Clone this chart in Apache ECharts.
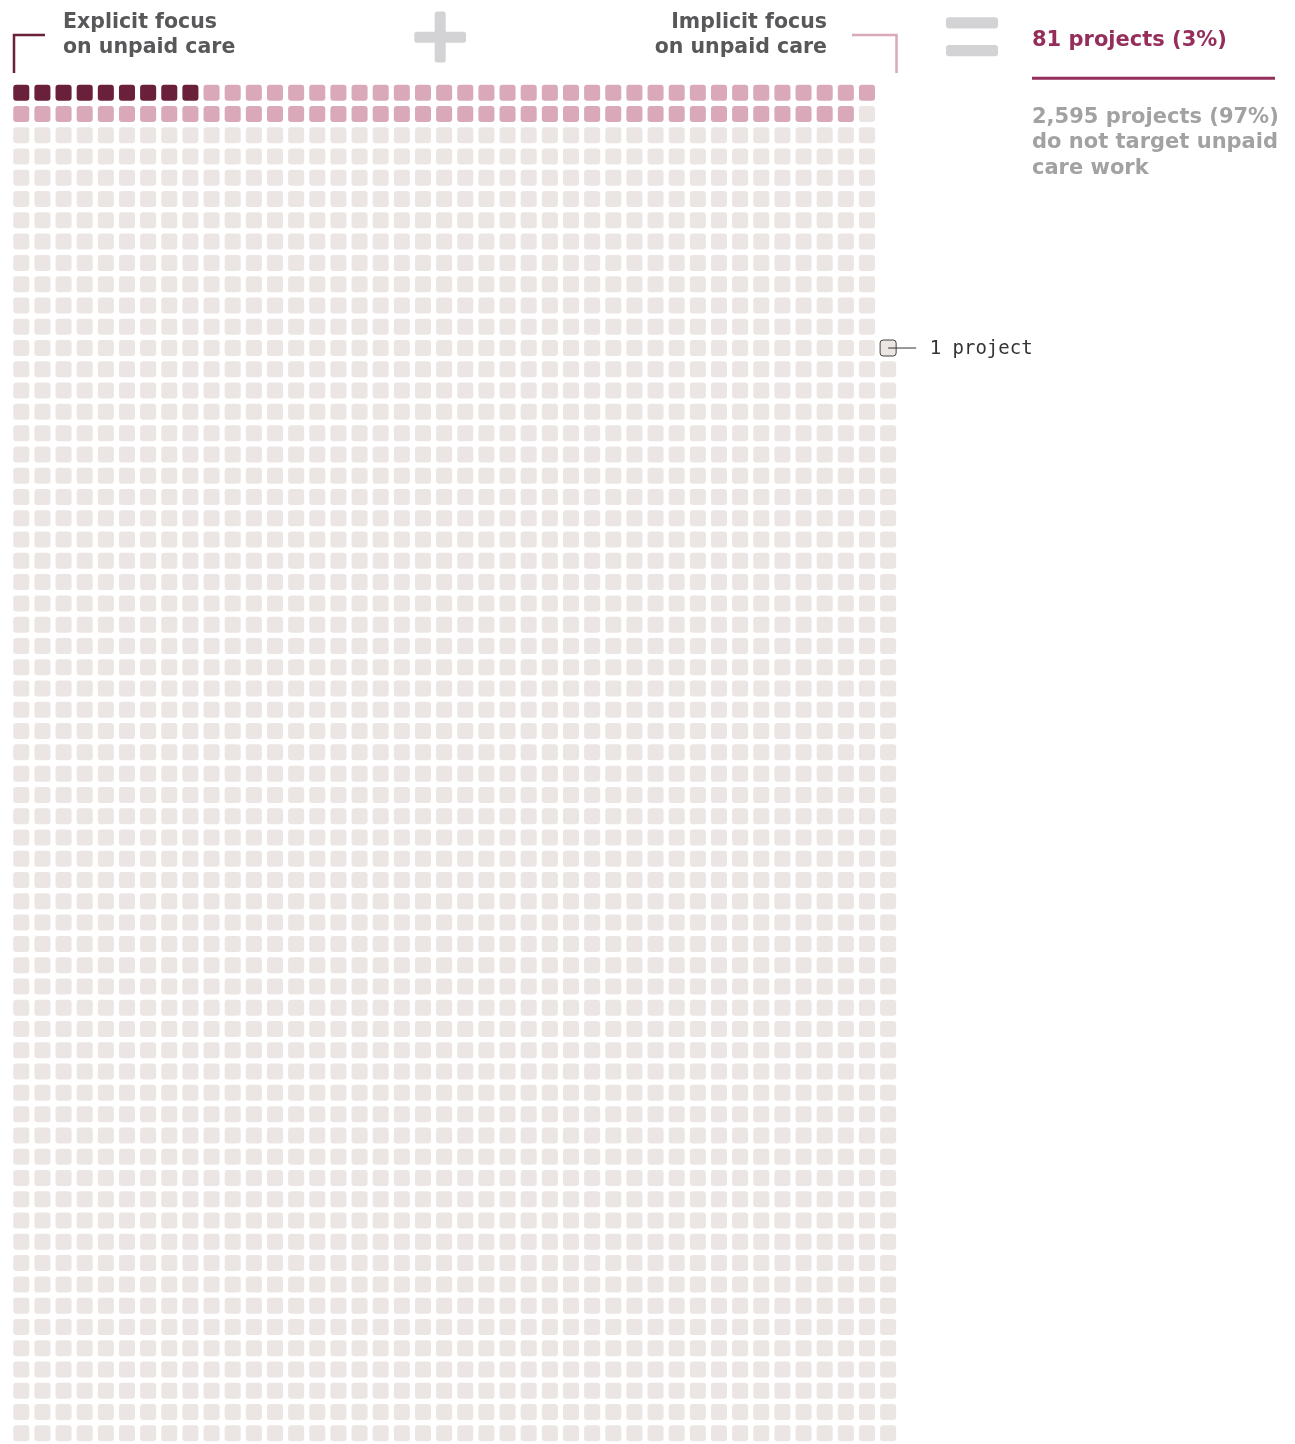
<!DOCTYPE html>
<html><head><meta charset="utf-8">
<script src="https://cdn.jsdelivr.net/npm/echarts@6/dist/echarts.min.js"></script>
<style>html,body{margin:0;padding:0;background:#fff}#c{width:1295px;height:1444px}</style>
</head><body><div id="c"></div>
<script>
// ---- data ----
const categories = ['Explicit focus on unpaid care', 'Implicit focus on unpaid care', 'Do not target unpaid care work'];
const projectCounts = [9, 72, 2595];
const categoryColors = ['#6a1f3b', '#d9a9ba', '#ebe6e3'];
const explicitHeader = ['Explicit focus', 'on unpaid care'];
const implicitHeader = ['Implicit focus', 'on unpaid care'];
const totalLabel = ['81 projects (3%)'];
const restLabel = ['2,595 projects (97%)', 'do not target unpaid', 'care work'];
const unitLabel = ['1 project'];

// ---- layout of the waffle ----
const COLS = 42, ROWS = 64, NARROW_ROWS = 12; // first 12 rows hold 41 cells
const LEGEND_ROW = 12, LEGEND_COL = 41;
function cellPos(i) {
  const narrow = NARROW_ROWS * (COLS - 1);
  if (i < narrow) return [i % (COLS - 1), Math.floor(i / (COLS - 1))];
  const j = i - narrow;
  return [j % COLS, NARROW_ROWS + Math.floor(j / COLS)];
}
const cells = [];
let idx = 0;
projectCounts.forEach((n, c) => {
  for (let k = 0; k < n; k++) {
    const p = cellPos(idx++);
    cells.push([p[0], p[1], c, (p[0] === LEGEND_COL && p[1] === LEGEND_ROW) ? 1 : 0]);
  }
});

const chart = echarts.init(document.getElementById('c'), null, {renderer: 'canvas'});
const HFONT = 'DejaVu Sans';
const headerStyle = (text, x, y, align) => ({
  type: 'text', silent: true,
  style: {text, x, y, fill: '#58585a', fontSize: 20.5, fontWeight: 'bold', fontFamily: HFONT, align, verticalAlign: 'middle'}
});
const graphics = [
  // brackets
  {type: 'polyline', shape: {points: [[14, 73], [14, 35], [45, 35]]}, style: {stroke: categoryColors[0], lineWidth: 2.5, fill: null}},
  {type: 'polyline', shape: {points: [[852, 35], [896.5, 35], [896.5, 73]]}, style: {stroke: categoryColors[1], lineWidth: 2.5, fill: null}},
  // plus
  {type: 'rect', shape: {x: 434.7, y: 11.5, width: 11, height: 51, r: 2.5}, style: {fill: '#d3d3d5'}},
  {type: 'rect', shape: {x: 414.3, y: 31.7, width: 51.7, height: 11, r: 2.5}, style: {fill: '#d3d3d5'}},
  // equals
  {type: 'rect', shape: {x: 946, y: 17.3, width: 52, height: 11.3, r: 3}, style: {fill: '#d3d3d5'}},
  {type: 'rect', shape: {x: 946, y: 45, width: 52, height: 11.3, r: 3}, style: {fill: '#d3d3d5'}},
  headerStyle(explicitHeader[0], 63, 23, 'left'),
  headerStyle(explicitHeader[1], 63, 48, 'left'),
  headerStyle(implicitHeader[0], 827, 23, 'right'),
  headerStyle(implicitHeader[1], 827, 48, 'right'),
  {type: 'text', silent: true, style: {text: totalLabel[0], x: 1032, y: 40.5, fill: '#952e5b', fontSize: 21, fontWeight: 'bold', fontFamily: HFONT, verticalAlign: 'middle'}},
  {type: 'line', shape: {x1: 1032, y1: 78.3, x2: 1275, y2: 78.3}, style: {stroke: '#952e5b', lineWidth: 3}},
].concat(restLabel.map((t, i) => ({
  type: 'text', silent: true,
  style: {text: t, x: 1032, y: 117.5 + i * 25.3, fill: '#a2a2a2', fontSize: 21, fontWeight: 'bold', fontFamily: HFONT, verticalAlign: 'middle'}
})));

chart.setOption({
  animation: false,
  backgroundColor: '#ffffff',
  grid: {left: 10.7, top: 82, width: 888, height: 1365, containLabel: false},
  xAxis: {type: 'value', min: -0.5, max: COLS - 0.5, show: false},
  yAxis: {type: 'value', min: -0.5, max: ROWS - 0.5, inverse: true, show: false},
  graphic: graphics,
  series: [{
    type: 'custom',
    data: cells,
    encode: {x: 0, y: 1},
    clip: false,
    renderItem: function (params, api) {
      const c = api.coord([api.value(0), api.value(1)]);
      const s = api.size([1, 1]);
      const w = s[0] - 5.1, h = s[1] - 5.3;
      const cat = api.value(2);
      if (api.value(3) === 1) {
        return {
          type: 'group',
          children: [
            {type: 'rect', shape: {x: c[0] - w / 2, y: c[1] - h / 2, width: w, height: h, r: 3},
              style: {fill: categoryColors[cat], stroke: '#444444', lineWidth: 1}},
            {type: 'line', shape: {x1: c[0], y1: c[1], x2: c[0] + 28, y2: c[1]}, style: {stroke: '#333333', lineWidth: 1}},
            {type: 'text', style: {text: unitLabel[0], x: c[0] + 41.5, y: c[1] + 1, fill: '#333333', fontSize: 19,
              fontFamily: 'DejaVu Sans Mono', verticalAlign: 'middle'}}
          ]
        };
      }
      return {type: 'rect', shape: {x: c[0] - w / 2, y: c[1] - h / 2, width: w, height: h, r: 3},
        style: {fill: categoryColors[cat]}};
    }
  }]
});
</script>
</body></html>
